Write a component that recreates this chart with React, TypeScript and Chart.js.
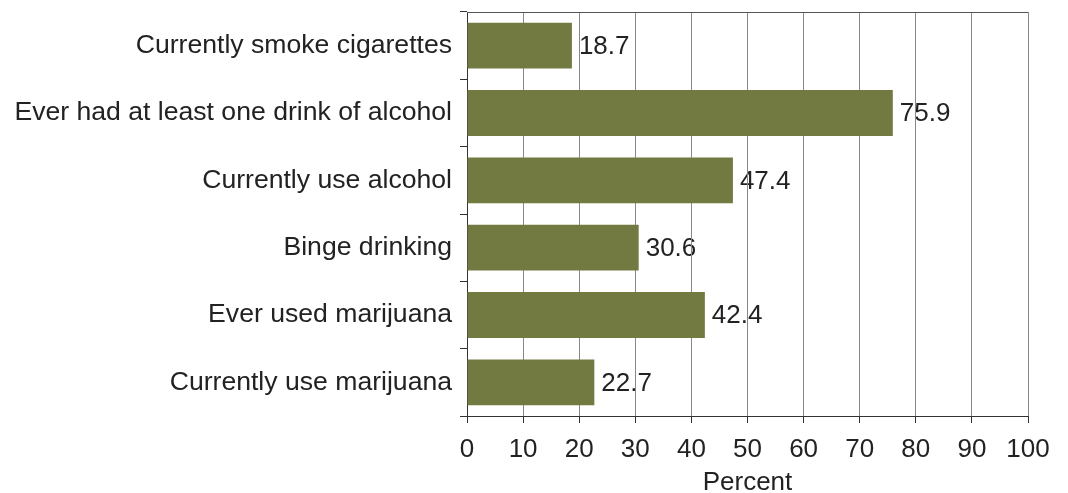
import React, { useEffect, useRef } from "react";
import { Chart, registerables } from "chart.js";

Chart.register(...registerables);

const categories = [
  "Currently smoke cigarettes",
  "Ever had at least one drink of alcohol",
  "Currently use alcohol",
  "Binge drinking",
  "Ever used marijuana",
  "Currently use marijuana",
];
const values = [18.7, 75.9, 47.4, 30.6, 42.4, 22.7];
const xTicks = [0, 10, 20, 30, 40, 50, 60, 70, 80, 90, 100];
const xTitle = "Percent";

const FONT = "'Liberation Sans', Arial, Helvetica, sans-serif";

export default function App() {
  const ref = useRef<HTMLCanvasElement | null>(null);

  useEffect(() => {
    document.body.style.margin = "0";
    const canvas = ref.current!;
    const labelPlugin = {
      id: "valueLabels",
      beforeDraw(chart: any) {
        const ctx = chart.ctx;
        const meta = chart.getDatasetMeta(0);
        ctx.save();
        ctx.font = `26px ${FONT}`;
        ctx.fillStyle = "#222";
        ctx.textAlign = "left";
        ctx.textBaseline = "middle";
        meta.data.forEach((bar: any, i: number) => {
          ctx.fillText(values[i].toFixed(1), bar.x + 7, bar.y + 1);
        });
        ctx.restore();
      },
      afterDatasetsDraw(chart: any) {
        const { ctx, chartArea } = chart;
        ctx.save();
        ctx.strokeStyle = "#555";
        ctx.lineWidth = 1;
        ctx.beginPath();
        ctx.moveTo(chartArea.left, Math.round(chartArea.top) + 0.5);
        ctx.lineTo(chartArea.right, Math.round(chartArea.top) + 0.5);
        ctx.stroke();
        ctx.restore();
      },
    };
    const chart = new Chart(canvas, {
      type: "bar",
      data: {
        labels: categories,
        datasets: [
          {
            data: values,
            backgroundColor: "#727A42",
            borderWidth: 0,
            barPercentage: 0.68,
            categoryPercentage: 1,
          },
        ],
      },
      options: {
        indexAxis: "y",
        animation: false,
        responsive: false,
        maintainAspectRatio: false,
        layout: { padding: { left: 0, right: 40, top: 12, bottom: 0 } },
        plugins: {
          legend: { display: false },
          tooltip: { enabled: false },
        },
        scales: {
          x: {
            min: 0,
            max: 100,
            afterBuildTicks(scale: any) {
              scale.ticks = xTicks.map((v) => ({ value: v }));
            },
            afterFit(scale: any) {
              scale.height = 77;
            },
            grid: {
              color: "#888",
              lineWidth: 1,
              tickColor: "#333",
              tickLength: 7,
              drawOnChartArea: true,
            },
            border: { color: "#333", width: 1 },
            ticks: {
              color: "#222",
              font: { family: FONT, size: 26 },
              padding: 11,
              maxRotation: 0,
              autoSkip: false,
            },
            title: {
              display: true,
              text: xTitle,
              color: "#222",
              font: { family: FONT, size: 26 },
              padding: { top: 3, bottom: -5 },
            },
          },
          y: {
            afterFit(scale: any) {
              scale.width = 467;
            },
            grid: {
              offset: true,
              drawOnChartArea: false,
              drawTicks: true,
              tickLength: 7,
              tickColor: "#333",
            },
            border: { color: "#333", width: 1 },
            ticks: {
              color: "#222",
              font: { family: FONT, size: 26.6, lineHeight: 0.2 },
              padding: 8,
              autoSkip: false,
            },
          },
        },
      },
      plugins: [labelPlugin],
    });
    return () => chart.destroy();
  }, []);

  return (
    <div style={{ width: 1068, height: 493 }}>
      <canvas ref={ref} width={1068} height={493} style={{ width: 1068, height: 493, display: "block" }} />
    </div>
  );
}
